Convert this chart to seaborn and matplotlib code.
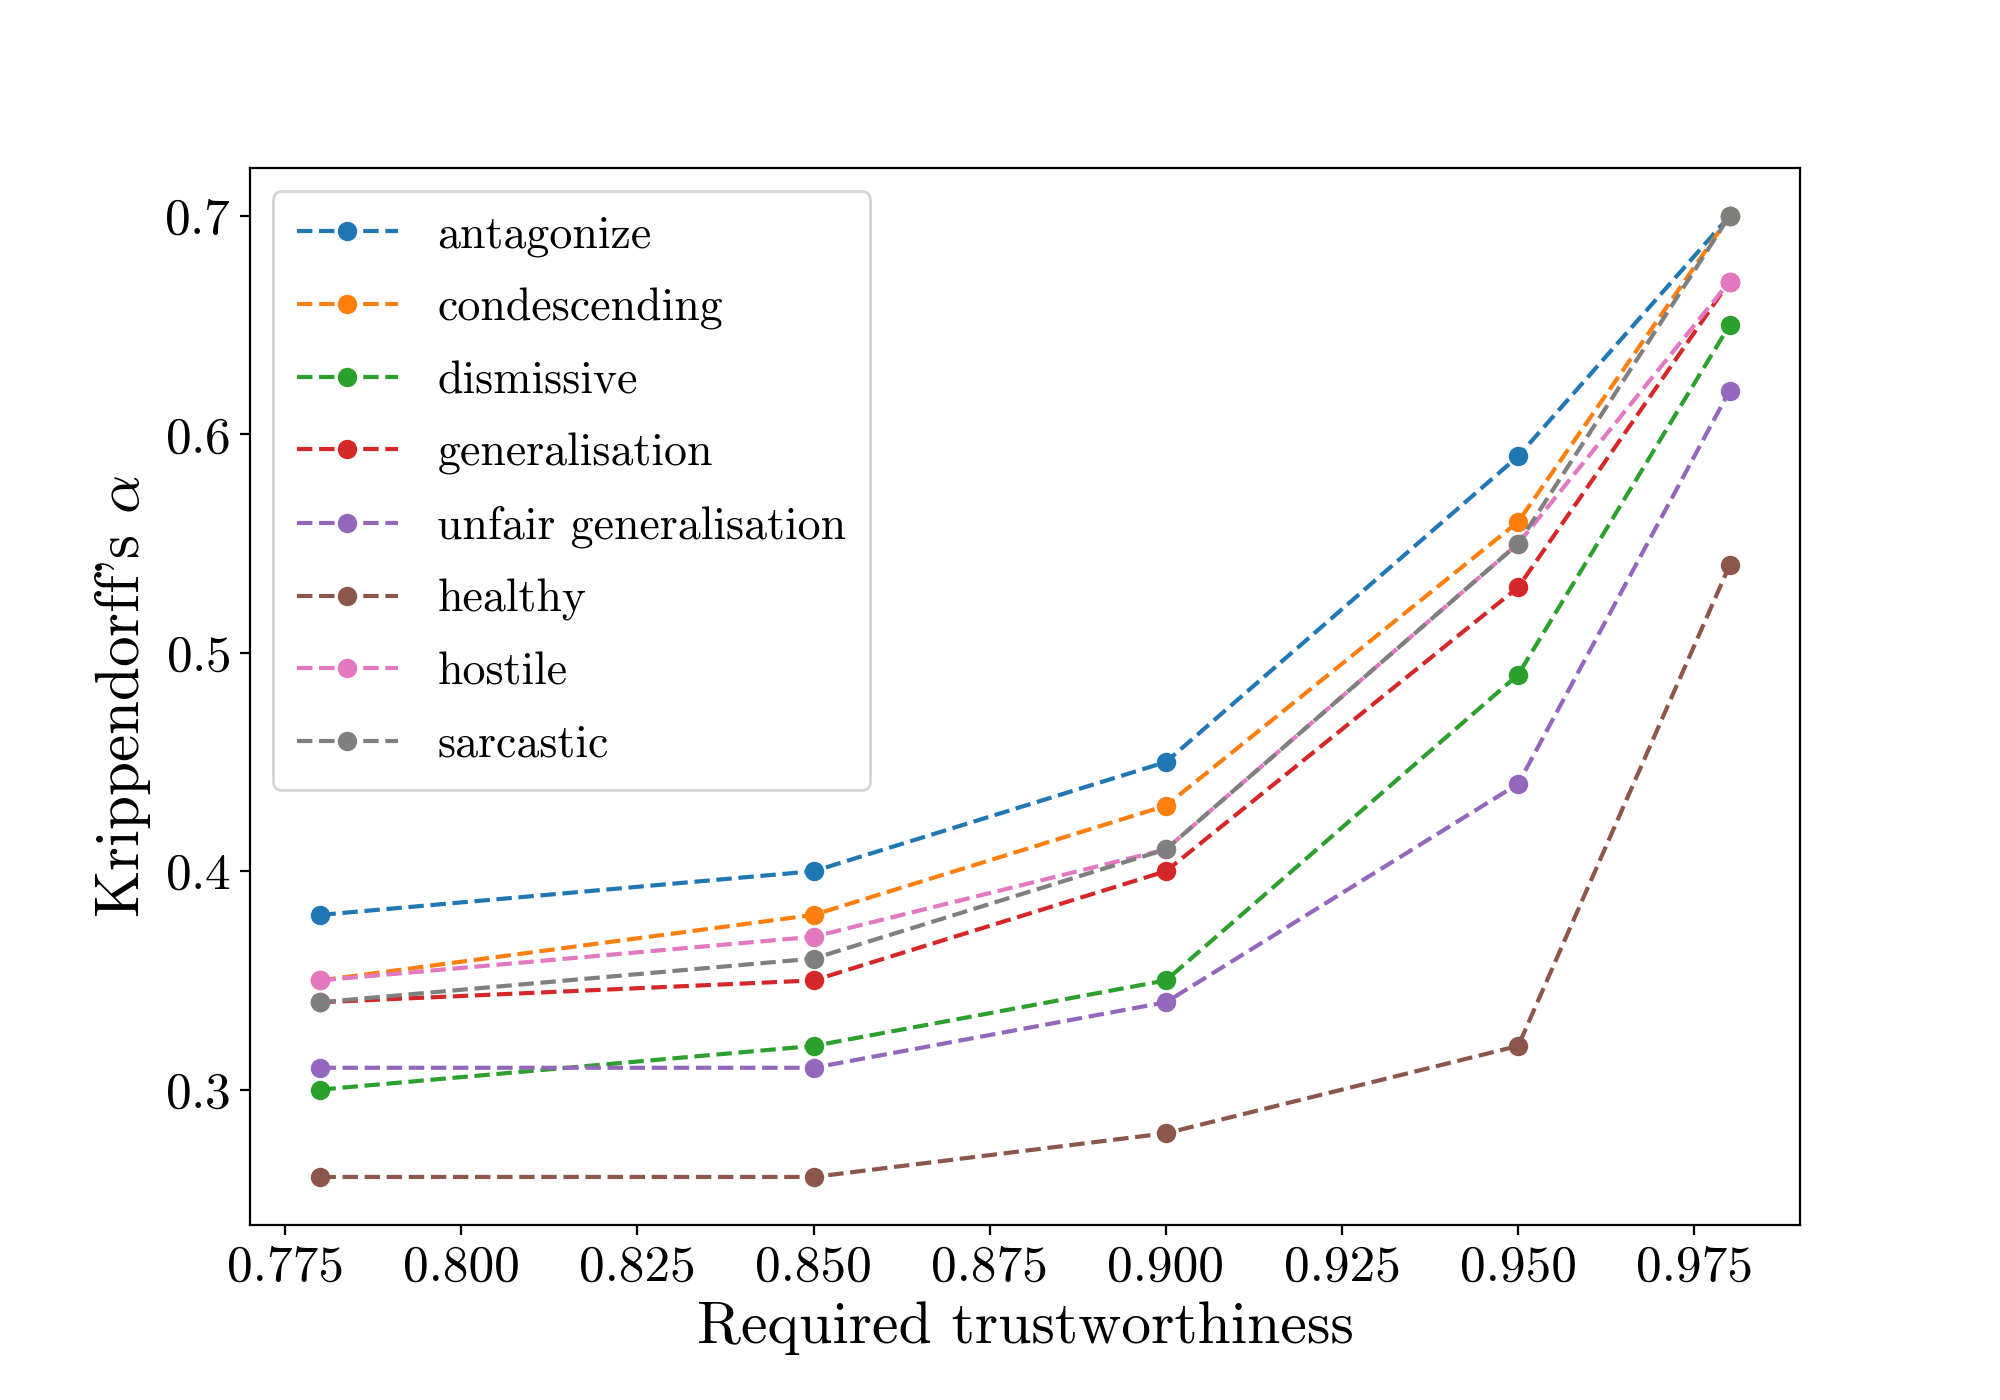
import seaborn as sns
import matplotlib.pyplot as plt
import pandas as pd

# Data
trust = [0.78, 0.85, 0.90, 0.95, 0.98]
categories = ['antagonize', 'condescending', 'dismissive', 'generalisation',
              'unfair generalisation', 'healthy', 'hostile', 'sarcastic']
antagonize = [0.38, 0.40, 0.45, 0.59, 0.70]
condescending = [0.35, 0.38, 0.43, 0.56, 0.70]
dismissive = [0.30, 0.32, 0.35, 0.49, 0.65]
generalisation = [0.34, 0.35, 0.40, 0.53, 0.67]
unfair_generalisation = [0.31, 0.31, 0.34, 0.44, 0.62]
healthy = [0.26, 0.26, 0.28, 0.32, 0.54]
hostile = [0.35, 0.37, 0.41, 0.55, 0.67]
sarcastic = [0.34, 0.36, 0.41, 0.55, 0.70]

values = [antagonize, condescending, dismissive, generalisation,
          unfair_generalisation, healthy, hostile, sarcastic]

# LaTeX-like look
plt.rcParams['font.family'] = 'serif'
plt.rcParams['font.serif'] = ['cmr10']
plt.rcParams['mathtext.fontset'] = 'cm'
plt.rcParams['axes.formatter.use_mathtext'] = True

colors = sns.color_palette('tab10', len(categories))

fig, ax = plt.subplots(figsize=(10, 7), dpi=200)
fig.subplots_adjust(bottom=0.125)

for name, vals, c in zip(categories, values, colors):
    df = pd.DataFrame({'trust': trust, 'alpha': vals})
    sns.lineplot(data=df, x='trust', y='alpha', color=c, marker='o',
                 linestyle='--', markeredgewidth=0, markersize=7,
                 label=name, ax=ax)

ax.set_xticks([0.775, 0.8, 0.825, 0.85, 0.875, 0.9, 0.925, 0.95, 0.975])
ax.set_xticklabels(['0.775', '0.800', '0.825', '0.850', '0.875',
                    '0.900', '0.925', '0.950', '0.975'])
ax.tick_params(labelsize=18.5)
ax.set_xlabel('Required trustworthiness', fontsize=21.5)
ax.set_ylabel(r"Krippendorff's $\alpha$", fontsize=22)
ax.legend(loc='upper left', fontsize=16.5, labelspacing=0.67,
          handlelength=2.2, handletextpad=0.87, borderpad=0.52)

plt.savefig('out.png')
